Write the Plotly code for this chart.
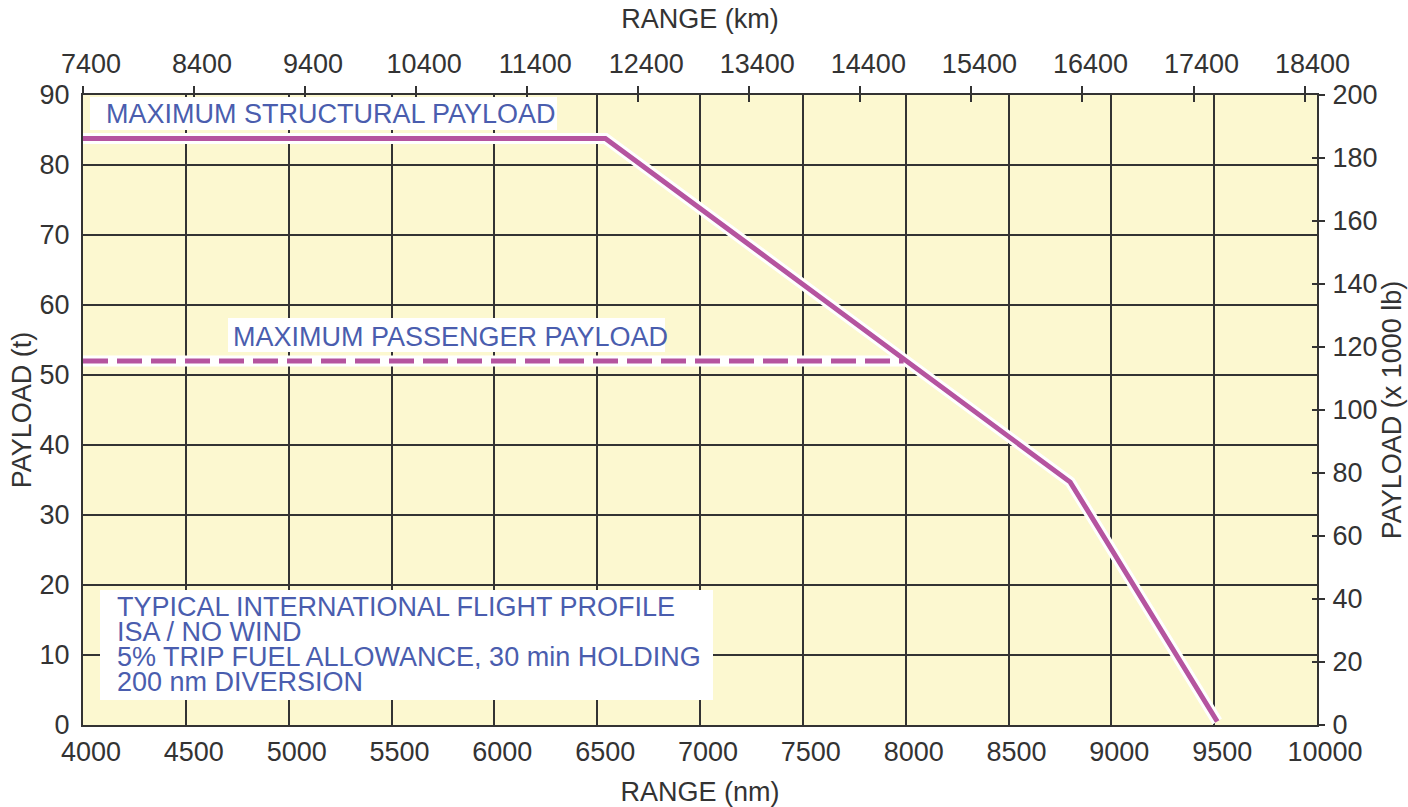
import plotly.graph_objects as go

# ---- data ----
structural_nm = [4000, 6540, 8800, 9515]
structural_t = [83.8, 83.8, 34.7, 0.5]
passenger_nm = [4000, 7990]
passenger_t = [52, 52]

nm_ticks = [4000, 4500, 5000, 5500, 6000, 6500, 7000, 7500, 8000, 8500, 9000, 9500, 10000]
km_ticks = [7400, 8400, 9400, 10400, 11400, 12400, 13400, 14400, 15400, 16400, 17400, 18400]
t_ticks = [0, 10, 20, 30, 40, 50, 60, 70, 80, 90]
lb_ticks = [0, 20, 40, 60, 80, 100, 120, 140, 160, 180, 200]

profile_lines = [
    "TYPICAL INTERNATIONAL FLIGHT PROFILE",
    "ISA / NO WIND",
    "5% TRIP FUEL ALLOWANCE, 30 min HOLDING",
    "200 nm DIVERSION",
]

PURPLE = "#B5549F"
BLUE = "#4A5DAE"
DARK = "#333333"
FONT = "Liberation Sans, Arial, Helvetica, sans-serif"

W, H = 1408, 807
L, R, T, B = 83, 91, 95, 82
PW, PH = W - L - R, H - T - B


def px(x):
    return (x - L) / PW


def py(y):
    return (H - B - y) / PH


fig = go.Figure()

# halos
fig.add_trace(go.Scatter(x=passenger_nm, y=passenger_t, mode="lines",
                         line=dict(color="white", width=11), hoverinfo="skip", showlegend=False))
fig.add_trace(go.Scatter(x=structural_nm, y=structural_t, mode="lines",
                         line=dict(color="white", width=11), hoverinfo="skip", showlegend=False))
# lines
fig.add_trace(go.Scatter(x=passenger_nm, y=passenger_t, mode="lines",
                         line=dict(color=PURPLE, width=5, dash="25px,9px"),
                         name="Maximum passenger payload", showlegend=False))
fig.add_trace(go.Scatter(x=structural_nm, y=structural_t, mode="lines",
                         line=dict(color=PURPLE, width=5),
                         name="Maximum structural payload", showlegend=False))

# dummy traces to activate secondary axes
fig.add_trace(go.Scatter(x=[km_ticks[0]], y=[0], xaxis="x2", yaxis="y", mode="markers",
                         marker=dict(opacity=0), hoverinfo="skip", showlegend=False))
fig.add_trace(go.Scatter(x=[km_ticks[0]], y=[0], xaxis="x3", yaxis="y", mode="markers",
                         marker=dict(opacity=0), hoverinfo="skip", showlegend=False))
fig.add_trace(go.Scatter(x=[4000], y=[0], xaxis="x", yaxis="y2", mode="markers",
                         marker=dict(opacity=0), hoverinfo="skip", showlegend=False))
fig.add_trace(go.Scatter(x=[4000], y=[0], xaxis="x", yaxis="y3", mode="markers",
                         marker=dict(opacity=0), hoverinfo="skip", showlegend=False))

tickfont = dict(family=FONT, size=27, color=DARK)
titlefont = dict(family=FONT, size=27, color=DARK)

km_range = [7400, 10000 * 1.852 - 8]

fig.update_layout(
    width=W, height=H,
    margin=dict(l=L, r=R, t=T, b=B, autoexpand=False),
    paper_bgcolor="white",
    plot_bgcolor="#FCF8D0",
    showlegend=False,
    xaxis=dict(range=[4000, 10000], tickvals=nm_ticks, ticktext=[str(v) for v in nm_ticks],
               showgrid=True, gridcolor=DARK, gridwidth=1.5,
               showline=True, linecolor=DARK, linewidth=2, mirror=True, ticks="", zeroline=False,
               tickfont=tickfont, ticklabelshift=8, ticklabelstandoff=2,
               title=dict(text="RANGE (nm)", font=titlefont, standoff=16)),
    xaxis2=dict(range=km_range, tickvals=km_ticks, ticktext=[str(v) for v in km_ticks],
                overlaying="x", side="top", anchor="y",
                showgrid=False, zeroline=False, ticks="outside", ticklen=8, tickwidth=1.5,
                tickcolor=DARK, tickfont=tickfont, ticklabelshift=8, ticklabelstandoff=2,
                title=dict(text="RANGE (km)", font=titlefont, standoff=12)),
    xaxis3=dict(range=km_range, tickvals=km_ticks, overlaying="x", side="top", anchor="y",
                showgrid=False, zeroline=False, ticks="inside", ticklen=7, tickwidth=1.5,
                tickcolor=DARK, showticklabels=False),
    yaxis=dict(range=[0, 90], tickvals=t_ticks, ticktext=[str(v) for v in t_ticks],
               showgrid=True, gridcolor=DARK, gridwidth=1.5,
               showline=True, linecolor=DARK, linewidth=2, mirror=True, ticks="", zeroline=False,
               tickfont=tickfont, ticklabelstandoff=6,
               title=dict(text="PAYLOAD (t)", font=titlefont, standoff=0)),
    yaxis2=dict(range=[0, 200], tickvals=lb_ticks, ticktext=[str(v) for v in lb_ticks],
                overlaying="y", side="right", anchor="x",
                showgrid=False, zeroline=False, ticks="outside", ticklen=7, tickwidth=1.5,
                tickcolor=DARK, tickfont=tickfont, ticklabelstandoff=2,
                title=dict(text="PAYLOAD (x 1000 lb)", font=titlefont, standoff=2)),
    yaxis3=dict(range=[0, 200], tickvals=lb_ticks, overlaying="y", side="right", anchor="x",
                showgrid=False, zeroline=False, ticks="inside", ticklen=5, tickwidth=1.5,
                tickcolor=DARK, showticklabels=False),
)

# white label boxes
boxes = [(90, 97, 557, 130), (228, 318, 665, 352), (100, 590, 713, 700)]
for x0, y0, x1, y1 in boxes:
    fig.add_shape(type="rect", xref="paper", yref="paper",
                  x0=px(x0), x1=px(x1), y0=py(y1), y1=py(y0),
                  fillcolor="white", line=dict(width=0), layer="above")

labfont = dict(family=FONT, size=27, color=BLUE)
fig.add_annotation(text="MAXIMUM STRUCTURAL PAYLOAD", xref="paper", yref="paper",
                   x=px(104), y=py(114), xanchor="left", yanchor="middle",
                   showarrow=False, font=labfont)
fig.add_annotation(text="MAXIMUM PASSENGER PAYLOAD", xref="paper", yref="paper",
                   x=px(231), y=py(337), xanchor="left", yanchor="middle",
                   showarrow=False, font=labfont)
for i, line in enumerate(profile_lines):
    fig.add_annotation(text=line, xref="paper", yref="paper",
                       x=px(116), y=py(607 + 25 * i), xanchor="left", yanchor="middle",
                       height=24, borderpad=0,
                       showarrow=False, font=labfont)

fig.write_html("out.html", config={"displayModeBar": False},
               post_script="document.body.style.margin='0px';")
